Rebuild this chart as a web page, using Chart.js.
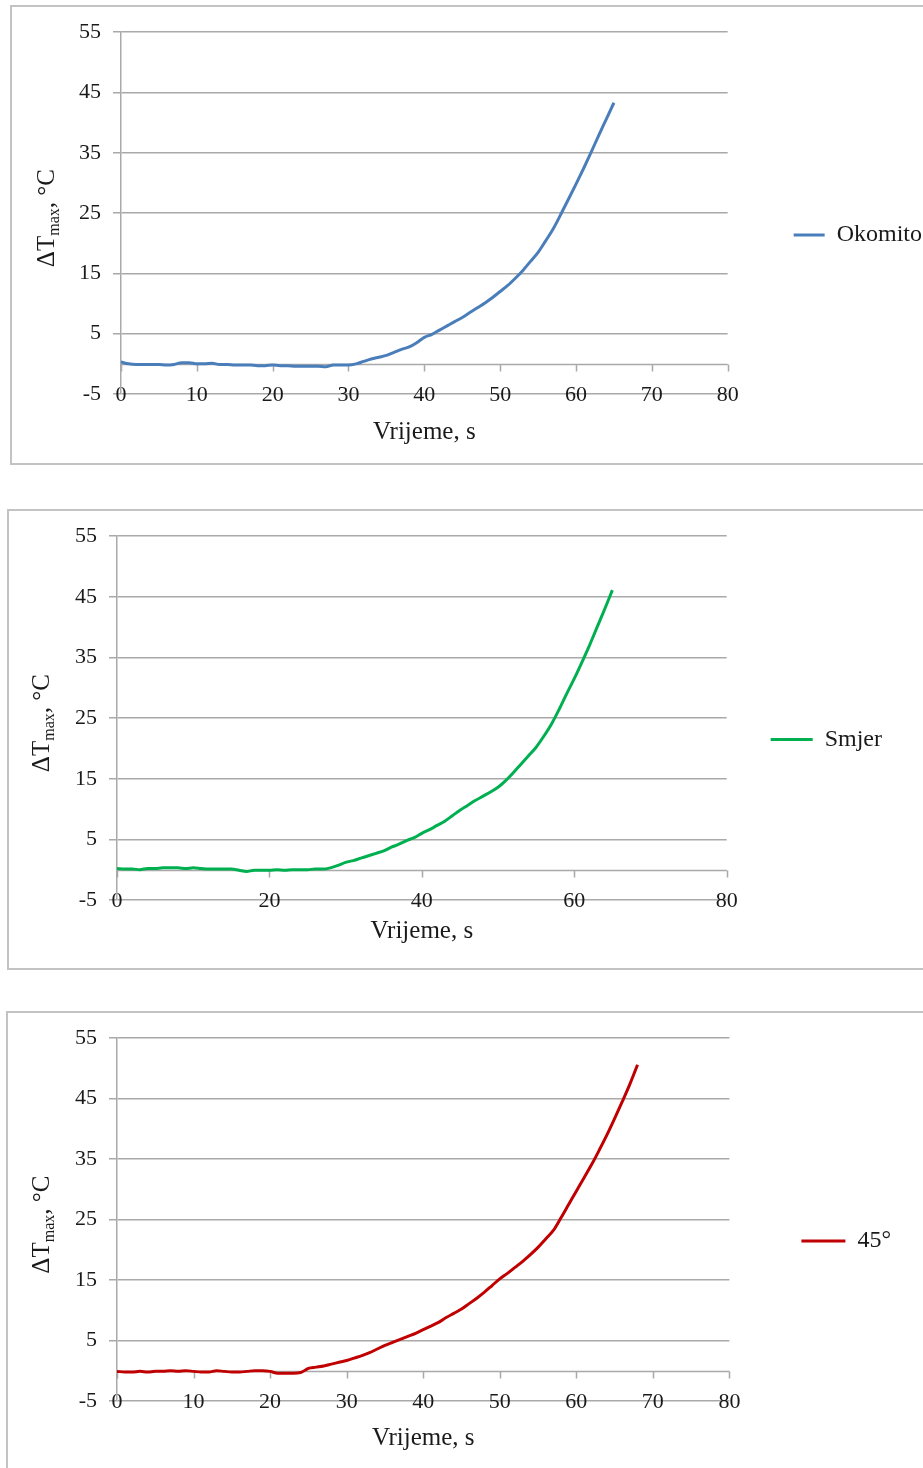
<!DOCTYPE html>
<html><head><meta charset="utf-8">
<script src="https://cdn.jsdelivr.net/npm/chart.js@4.4.1/dist/chart.umd.min.js"></script>
<style>
html,body{margin:0;padding:0;background:#fff;overflow:hidden;width:923px;height:1468px;}
.box{position:absolute;border:2px solid #c3c3c3;box-sizing:border-box;overflow:hidden;background:#fff;}
.box canvas{position:absolute;left:0;top:0;}
</style></head><body>
<div class="box" style="left:10px;top:5px;width:960px;height:460px"><canvas id="c1"></canvas></div>
<div class="box" style="left:7px;top:509px;width:960px;height:461px"><canvas id="c2"></canvas></div>
<div class="box" style="left:6px;top:1011px;width:960px;height:460px"><canvas id="c3"></canvas></div>
<script>
// ---------- data ----------
const xTitle = 'Vrijeme, s';
const yTitleMain = 'ΔT';
const yTitleSub = 'max';
const yTitleUnit = ', °C';
const yMin = -5, yMax = 55, yStep = 10;

const labelOkomito = 'Okomito';
const timeOkomito = [0,1,2,3,4,5,6,7,8,9,10,11,12,13,14,15,16,17,18,19,20,21,22,23,24,25,26,27,28,29,30,31,32,33,34,35,36,37,38,39,40,41,42,43,44,45,46,47,48,49,50,51,52,53,54,55,56,57,58,59,60,61,62,63,64,65];
const dTOkomito = [0.3,0.0,-0.1,-0.1,-0.1,-0.1,-0.2,-0.1,0.2,0.2,0.0,0.0,0.1,-0.1,-0.1,-0.2,-0.2,-0.2,-0.3,-0.3,-0.2,-0.3,-0.3,-0.4,-0.4,-0.4,-0.4,-0.5,-0.2,-0.2,-0.2,0.0,0.4,0.8,1.1,1.4,1.9,2.4,2.8,3.5,4.4,4.9,5.6,6.3,7.0,7.7,8.5,9.3,10.1,11.0,12.0,13.0,14.2,15.5,17.0,18.5,20.4,22.4,24.8,27.3,29.8,32.4,35.1,37.9,40.6,43.3];

const labelSmjer = 'Smjer';
const timeSmjer = [0,1,2,3,4,5,6,7,8,9,10,11,12,13,14,15,16,17,18,19,20,21,22,23,24,25,26,27,28,29,30,31,32,33,34,35,36,37,38,39,40,41,42,43,44,45,46,47,48,49,50,51,52,53,54,55,56,57,58,59,60,61,62,63,64,65];
const dTSmjer = [0.2,0.1,0.1,0.0,0.2,0.2,0.3,0.3,0.3,0.2,0.3,0.2,0.1,0.1,0.1,0.1,-0.1,-0.3,-0.1,-0.1,-0.1,0.0,-0.1,0.0,0.0,0.0,0.1,0.1,0.3,0.7,1.2,1.5,1.9,2.3,2.7,3.1,3.7,4.2,4.8,5.3,6.0,6.6,7.3,8.0,8.9,9.8,10.6,11.4,12.1,12.8,13.6,14.7,16.0,17.4,18.8,20.2,22.0,24.0,26.4,29.0,31.5,34.2,37.0,40.0,43.0,46.1];

const label45 = '45°';
const time45 = [0,1,2,3,4,5,6,7,8,9,10,11,12,13,14,15,16,17,18,19,20,21,22,23,24,25,26,27,28,29,30,31,32,33,34,35,36,37,38,39,40,41,42,43,44,45,46,47,48,49,50,51,52,53,54,55,56,57,58,59,60,61,62,63,64,65,66,67,68];
const dT45 = [-0.1,-0.2,-0.2,-0.1,-0.2,-0.1,-0.1,0.0,-0.1,0.0,-0.1,-0.2,-0.2,0.0,-0.1,-0.2,-0.2,-0.1,0.0,0.0,-0.1,-0.4,-0.4,-0.4,-0.3,0.4,0.6,0.8,1.1,1.4,1.7,2.1,2.5,3.0,3.6,4.2,4.7,5.2,5.7,6.2,6.8,7.4,8.0,8.8,9.5,10.2,11.1,12.0,13.0,14.1,15.2,16.1,17.1,18.1,19.2,20.4,21.8,23.2,25.3,27.5,29.7,31.9,34.1,36.5,39.0,41.7,44.5,47.4,50.6];

// ---------- layout / style ----------
const FONT = '"Liberation Serif", "Times New Roman", serif';
const TEXT = '#1a1a1a';
const GRID = '#a9a9a9';
const TICK_FS = 22, TITLE_FS = 25, LEG_FS = 24;

const panels = [
  {id:'c1', label:labelOkomito, t:timeOkomito, v:dTOkomito, color:'#4a7ebb', xStep:10,
   H:456, P:23, left:109, right:715, xHeight:46, titlePB:-7, legPad:66, boxW:31, yDx:-67, yDy:5},
  {id:'c2', label:labelSmjer, t:timeSmjer, v:dTSmjer, color:'#00b050', xStep:20,
   H:457, P:22, left:108, right:717, xHeight:46, titlePB:0, legPad:44, boxW:42, yDx:-68, yDy:5},
  {id:'c3', label:label45, t:time45, v:dT45, color:'#c00000', xStep:10,
   H:456, P:23, left:109, right:721, xHeight:45, titlePB:-7.5, legPad:72, boxW:44, yDx:-68, yDy:5},
];

function measure(text, font){
  const c = document.createElement('canvas').getContext('2d');
  c.font = font; return c.measureText(text).width;
}

const zeroAxisPlugin = {
  id:'zeroAxis',
  beforeDatasetsDraw(chart){
    const {ctx, chartArea, scales:{x, y}} = chart;
    const y0 = Math.round(y.getPixelForValue(0)) + 0.5;
    ctx.save();
    ctx.strokeStyle = GRID; ctx.lineWidth = 1.5;
    ctx.beginPath();
    ctx.moveTo(chartArea.left, y0); ctx.lineTo(chartArea.right, y0);
    x.ticks.forEach(t => {
      const px = Math.round(x.getPixelForValue(t.value)) + 0.5;
      ctx.moveTo(px, y0); ctx.lineTo(px, y0 + 7);
    });
    ctx.stroke();
    ctx.restore();
  }
};

const yTitlePlugin = {
  id:'yTitle',
  afterDraw(chart, args, opts){
    const {ctx, chartArea} = chart;
    const cx = chartArea.left + opts.dx;
    const cy = (chartArea.top + chartArea.bottom) / 2 + opts.dy;
    const big = TITLE_FS + 'px ' + FONT, small = Math.round(TITLE_FS*0.62) + 'px ' + FONT;
    ctx.save();
    ctx.translate(cx, cy);
    ctx.rotate(-Math.PI/2);
    ctx.fillStyle = TEXT;
    ctx.textBaseline = 'alphabetic';
    ctx.font = big; const w1 = ctx.measureText(yTitleMain).width;
    ctx.font = small; const w2 = ctx.measureText(yTitleSub).width;
    ctx.font = big; const w3 = ctx.measureText(yTitleUnit).width;
    let xx = -(w1 + w2 + w3) / 2;
    ctx.font = big; ctx.fillText(yTitleMain, xx, 0); xx += w1;
    ctx.font = small; ctx.fillText(yTitleSub, xx, 5); xx += w2;
    ctx.font = big; ctx.fillText(yTitleUnit, xx, 0);
    ctx.restore();
  }
};

panels.forEach(p => {
  const textW = measure(p.label, LEG_FS + 'px ' + FONT);
  const W = Math.ceil(p.right + p.legPad + p.boxW + LEG_FS/2 + textW + 10);
  const cv = document.getElementById(p.id);
  cv.width = W; cv.height = p.H;
  cv.style.width = W + 'px'; cv.style.height = p.H + 'px';
  new Chart(cv, {
    type:'line',
    data:{ datasets:[{
      label:p.label,
      data:p.t.map((x, i) => ({x, y:p.v[i]})),
      borderColor:p.color, backgroundColor:p.color,
      borderWidth:3, pointRadius:0, pointStyle:'line',
      cubicInterpolationMode:'monotone', fill:false
    }]},
    options:{
      responsive:false, animation:false, events:[],
      layout:{ padding:{ top:p.P, bottom:p.P, left:0, right:0 } },
      scales:{
        x:{
          type:'linear', position:'bottom', min:0, max:80,
          afterFit(s){ s.height = p.xHeight; },
          ticks:{ stepSize:p.xStep, mirror:true, padding:-14, color:TEXT, font:{family:FONT, size:TICK_FS}, maxRotation:0 },
          grid:{ display:false, drawTicks:false },
          border:{ display:false },
          title:{ display:true, text:xTitle, color:TEXT, font:{family:FONT, size:TITLE_FS}, padding:{top:0, bottom:p.titlePB} }
        },
        y:{
          type:'linear', min:yMin, max:yMax,
          afterFit(s){ s.width = p.left; },
          ticks:{ stepSize:yStep, padding:12, color:TEXT, font:{family:FONT, size:TICK_FS} },
          grid:{ color:GRID, lineWidth:1.5, tickLength:8, drawTicks:true },
          border:{ display:true, color:GRID, width:1.5 }
        }
      },
      plugins:{
        legend:{
          position:'right',
          labels:{ usePointStyle:true, pointStyle:'line', pointStyleWidth:p.boxW, padding:p.legPad,
                   color:TEXT, font:{family:FONT, size:LEG_FS} }
        },
        tooltip:{ enabled:false },
        yTitle:{ dx:p.yDx, dy:p.yDy }
      }
    },
    plugins:[zeroAxisPlugin, yTitlePlugin]
  });
});
</script>
</body></html>
